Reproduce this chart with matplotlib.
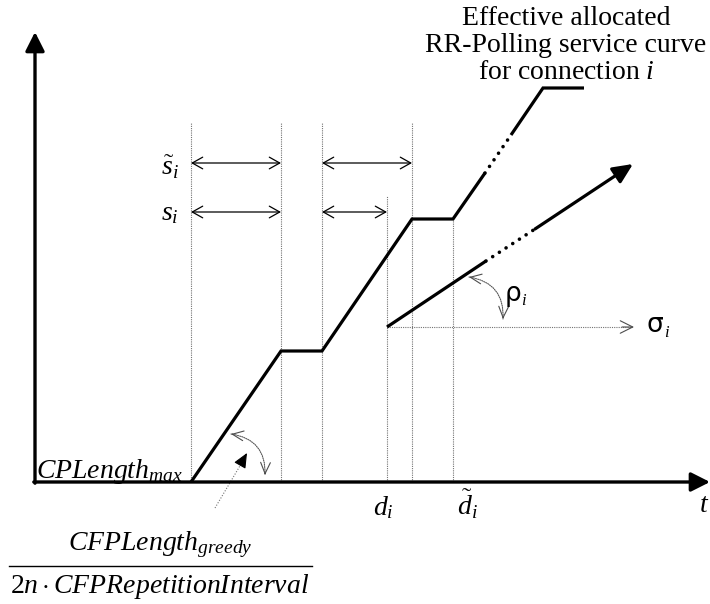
import matplotlib
matplotlib.use('Agg')
import matplotlib.pyplot as plt
import numpy as np

plt.rcParams['mathtext.fontset'] = 'custom'
plt.rcParams['mathtext.rm'] = 'Liberation Serif'
plt.rcParams['mathtext.it'] = 'Liberation Serif:italic'
plt.rcParams['mathtext.bf'] = 'Liberation Serif:bold'
plt.rcParams['font.family'] = ['Liberation Serif', 'DejaVu Sans']

# ---------------- data (diagram units: t to the right, service upwards) -------------
origin_t = 35
axis_t_end = 710
axis_y_end = 450

# effective allocated RR-polling service curve (solid part, dotted gap, solid top)
service_t = [191, 281, 322, 412, 453, 485]
service_y = [0, 131, 131, 263, 263, 309]
service_gap_t = [485, 511]
service_gap_y = [309, 347]
service_top_t = [511, 543, 584]
service_top_y = [347, 394, 394]

# (sigma, rho) arrival curve starting at d_i
arrival_t = [387, 486]
arrival_y = [155, 221]
arrival_gap_t = [486, 535]
arrival_gap_y = [221, 253]
arrival_head_t = [535, 633]
arrival_head_y = [253, 318]
sigma_level = 155
sigma_end_t = 634

# dotted guide lines
grid_t = [191, 281, 322, 412, 387, 453]
grid_top = [360, 360, 360, 360, 286, 263]

# interval arrows
s_tilde_spans = [(191, 281), (322, 412)]
s_tilde_level = 319
s_spans = [(191, 281), (322, 387)]
s_level = 270

d_i = 387
d_tilde_i = 453

title_lines = ['Effective allocated', 'RR-Polling service curve', r'for connection $i$']

# ---------------- figure ----------------
fig = plt.figure(figsize=(7.1, 6.04), dpi=100)
ax = fig.add_axes([0, 0, 1, 1])
ax.set_xlim(0, 710)
ax.set_ylim(-122, 482)
ax.axis('off')

grid_kw = dict(color='0.45', lw=0.8, linestyle=(0, (1, 1)))

# guide lines
for t, top in zip(grid_t, grid_top):
    ax.plot([t, t], [0, top], **grid_kw)
ax.plot([d_i, sigma_end_t - 2], [sigma_level, sigma_level], **grid_kw)
ax.annotate('', xy=(sigma_end_t, sigma_level), xytext=(sigma_end_t - 12, sigma_level),
            arrowprops=dict(arrowstyle='->,head_length=0.9,head_width=0.45', lw=0.8,
                            color='0.3', shrinkA=0, shrinkB=0))

# axes
ax.annotate('', xy=(origin_t, axis_y_end), xytext=(origin_t, -1.2),
            arrowprops=dict(arrowstyle='-|>,head_length=1.15,head_width=0.58', lw=2.4,
                            color='k', shrinkA=0, shrinkB=0))
ax.annotate('', xy=(axis_t_end, 0), xytext=(origin_t - 1.2, 0),
            arrowprops=dict(arrowstyle='-|>,head_length=1.15,head_width=0.58', lw=2.4,
                            color='k', shrinkA=0, shrinkB=0))

# service curve
curve_kw = dict(color='k', lw=2.3, solid_joinstyle='miter', solid_capstyle='butt')
ax.plot(service_t, service_y, **curve_kw)
ax.plot(service_top_t, service_top_y, **curve_kw)
ax.plot(service_gap_t, service_gap_y, color='k', lw=2.6, linestyle=(0, (0.01, 2.2)),
        dash_capstyle='round')

# arrival curve
ax.plot(arrival_t, arrival_y, **curve_kw)
ax.plot(arrival_gap_t, arrival_gap_y, color='k', lw=2.6, linestyle=(0, (0.01, 2.2)),
        dash_capstyle='round')
ax.annotate('', xy=(arrival_head_t[1], arrival_head_y[1]),
            xytext=(arrival_head_t[0], arrival_head_y[0]),
            arrowprops=dict(arrowstyle='-|>,head_length=1.2,head_width=0.55', lw=2.3,
                            color='k', shrinkA=0, shrinkB=0))

# interval arrows
arr_kw = dict(arrowstyle='<->,head_length=0.75,head_width=0.42', lw=0.9, color='k',
              shrinkA=0, shrinkB=0)
for a, b in s_tilde_spans:
    ax.annotate('', xy=(b, s_tilde_level), xytext=(a, s_tilde_level), arrowprops=arr_kw)
for a, b in s_spans:
    ax.annotate('', xy=(b, s_level), xytext=(a, s_level), arrowprops=arr_kw)


def curved_double_arrow(p0, p1, rad):
    """dotted curve with solid open heads at both ends"""
    p0 = np.array(p0, float)
    p1 = np.array(p1, float)
    ax.annotate('', xy=p1, xytext=p0,
                arrowprops=dict(arrowstyle='-', connectionstyle=f'arc3,rad={rad}',
                                lw=0.8, color='0.35', linestyle=(0, (1, 1)),
                                shrinkA=0, shrinkB=0))
    d = p1 - p0
    mid = (p0 + p1) / 2
    ctrl = mid + rad * np.array([d[1], -d[0]])
    for tip in (p0, p1):
        direc = tip - ctrl
        direc = direc / np.linalg.norm(direc)
        ax.annotate('', xy=tip, xytext=tip - 2 * direc,
                    arrowprops=dict(arrowstyle='->,head_length=0.8,head_width=0.35',
                                    lw=0.8, color='0.3', shrinkA=0, shrinkB=0))


curved_double_arrow((469, 205), (503, 163), -0.45)
curved_double_arrow((231, 48), (265, 7), -0.45)

# pointer from the fraction
ax.plot([215, 244], [-26, 23], color='0.45', lw=0.8, linestyle=(0, (1, 1.5)))
ax.annotate('', xy=(247, 29), xytext=(243, 22),
            arrowprops=dict(arrowstyle='-|>,head_length=0.9,head_width=0.4', lw=0.8,
                            color='k', shrinkA=0, shrinkB=0))

# ---------------- text ----------------
fs = 20
ax.text(36, 4, r'$CPLength_{max}$', fontsize=fs, ha='left', va='baseline')
ax.text(160, -68, r'$CFPLength_{greedy}$', fontsize=fs, ha='center', va='baseline')
ax.plot([9, 312], [-84, -84], color='k', lw=1.0)
ax.text(160, -111, r'$2n\cdot CFPRepetitionInterval$', fontsize=fs, ha='center',
        va='baseline')

ax.text(179, s_tilde_level - 4, r'$\tilde{s}_i$', fontsize=fs, ha='right', va='center')
ax.text(179, s_level - 2, r'$s_i$', fontsize=fs, ha='right', va='center')
ax.text(d_i - 4, -33, r'$d_i$', fontsize=fs, ha='center', va='baseline')
ax.text(d_tilde_i + 14, -33, r'$\tilde{d}_i$', fontsize=fs, ha='center', va='baseline')
ax.text(699, -30, r'$t$', fontsize=fs, ha='left', va='baseline')

ax.text(647, sigma_level + 2, 'σ', fontsize=19, family='DejaVu Sans', ha='left',
        va='center')
ax.text(664, sigma_level - 10, r'$i$', fontsize=12, ha='left', va='baseline')
ax.text(505, 188, 'ρ', fontsize=19, family='DejaVu Sans', ha='left', va='center')
ax.text(521, 177, r'$i$', fontsize=12, ha='left', va='baseline')

for k, line in enumerate(title_lines):
    ax.text(566, 457 - 27 * k, line, fontsize=fs, ha='center', va='baseline')

fig.savefig('out.png', dpi=100)
